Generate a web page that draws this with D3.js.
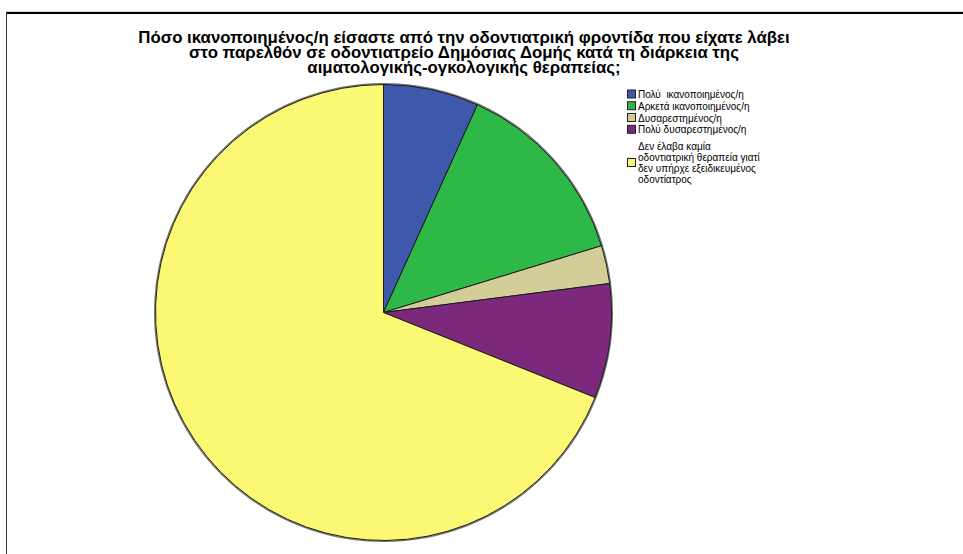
<!DOCTYPE html>
<html>
<head>
<meta charset="utf-8">
<script src="https://cdn.jsdelivr.net/npm/d3@7"></script>
<style>
  html, body { margin: 0; padding: 0; background: #fff; }
  svg { display: block; }
  text { white-space: pre; }
</style>
</head>
<body>
<svg id="chart" width="963" height="554"></svg>
<script>
// Responses (counts) for each satisfaction category
const categories = [
  "Πολύ  ικανοποιημένος/η",
  "Αρκετά ικανοποιημένος/η",
  "Δυσαρεστημένος/η",
  "Πολύ δυσαρεστημένος/η",
  "Δεν έλαβα καμία οδοντιατρική θεραπεία γιατί δεν υπήρχε εξειδικευμένος οδοντίατρος"
];
const counts = [5, 10, 2, 6, 51];
const colors = ["#3E58AC", "#2EB848", "#D3CE97", "#7C287D", "#FBF873"];

// Legend label lines (long label wraps over several lines)
const legendLines = [
  ["Πολύ  ικανοποιημένος/η"],
  ["Αρκετά ικανοποιημένος/η"],
  ["Δυσαρεστημένος/η"],
  ["Πολύ δυσαρεστημένος/η"],
  ["Δεν έλαβα καμία", "οδοντιατρική θεραπεία γιατί", "δεν υπήρχε εξειδικευμένος", "οδοντίατρος"]
];

const titleLines = [
  "Πόσο ικανοποιημένος/η είσαστε από την οδοντιατρική φροντίδα που είχατε λάβει",
  "στο παρελθόν σε οδοντιατρείο Δημόσιας Δομής κατά τη διάρκεια της",
  "αιματολογικής-ογκολογικής θεραπείας;"
];

const svg = d3.select("#chart");
const FONT = "'Liberation Sans', Arial, sans-serif";

// Chart frame (runs off the right and bottom edges)
svg.append("line").attr("x1", 6).attr("x2", 970).attr("y1", 11.5).attr("y2", 11.5)
  .attr("stroke", "#d8d8d8").attr("stroke-width", 1);
svg.append("line").attr("x1", 6).attr("x2", 970).attr("y1", 13).attr("y2", 13)
  .attr("stroke", "#000").attr("stroke-width", 2);
svg.append("line").attr("x1", 6.5).attr("x2", 6.5).attr("y1", 12).attr("y2", 560)
  .attr("stroke", "#333").attr("stroke-width", 1);

// Title: one text block, three centred lines; size fitted to the first line's width
const titleWidth = 652;
const title = svg.append("text")
  .attr("font-family", FONT).attr("font-weight", "bold")
  .attr("font-size", "14px").attr("fill", "#000").attr("text-anchor", "middle");
title.selectAll("tspan").data(titleLines).join("tspan")
  .attr("x", 464)
  .attr("y", (d, i) => 42.5 + i * 15)
  .text(d => d);
const w0 = title.select("tspan").node().getComputedTextLength();
title.attr("font-size", (14 * titleWidth / w0).toFixed(2) + "px");

// Pie
const cx = 383.5, cy = 312.5, r = 228;
const pie = d3.pie().sort(null).value(d => d);
const arc = d3.arc().innerRadius(0).outerRadius(r);
const pieG = svg.append("g").attr("transform", `translate(${cx},${cy})`);

// soft dark rim around the pie
pieG.append("circle").attr("r", r + 0.8).attr("fill", "none")
  .attr("stroke", "#777").attr("stroke-width", 1.5);

pieG.selectAll("path").data(pie(counts)).join("path")
  .attr("d", arc)
  .attr("fill", (d, i) => colors[i])
  .attr("stroke", "#1a1a1a")
  .attr("stroke-width", 1)
  .attr("stroke-linejoin", "round");

// Legend
const legend = svg.append("g").attr("font-family", FONT).attr("font-size", "10px").attr("fill", "#000");
const rowY = [94.5, 106.2, 118, 129.8];
const yellowLines = [146.5, 157.5, 168.5, 179.5];
legendLines.forEach((lines, i) => {
  const ys = i < 4 ? [rowY[i]] : yellowLines;
  const swatchCenter = i < 4 ? rowY[i] : (yellowLines[1] + yellowLines[2]) / 2;
  legend.append("rect")
    .attr("x", 627.5).attr("y", swatchCenter - 4.5)
    .attr("width", 8).attr("height", 8)
    .attr("fill", colors[i]).attr("stroke", "#222").attr("stroke-width", 1);
  lines.forEach((t, j) => {
    legend.append("text")
      .attr("x", 638).attr("y", ys[j] + 3.5)
      .text(t);
  });
});
</script>
</body>
</html>
